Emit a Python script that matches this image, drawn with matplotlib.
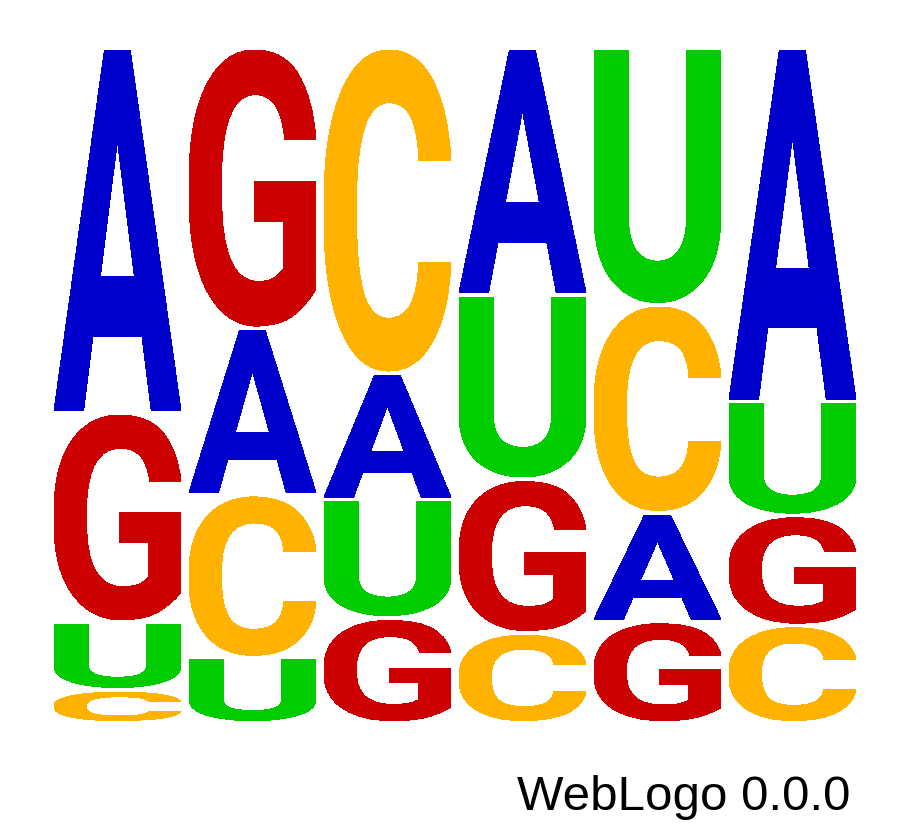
import matplotlib
matplotlib.use("Agg")
import matplotlib.pyplot as plt
from matplotlib.textpath import TextPath
from matplotlib.patches import PathPatch
from matplotlib.font_manager import FontProperties
from matplotlib.transforms import Affine2D

# ---- data (probability of each base at each position) ----
positions = [1, 2, 3, 4, 5, 6]
bases = ["A", "C", "G", "U"]
prob_A = [0.541, 0.248, 0.188, 0.365, 0.162, 0.524]
prob_C = [0.046, 0.243, 0.482, 0.131, 0.310, 0.142]
prob_G = [0.312, 0.415, 0.153, 0.229, 0.148, 0.164]
prob_U = [0.101, 0.094, 0.177, 0.275, 0.380, 0.170]
footer_text = "WebLogo 0.0.0"

colors = {"A": "#0000CC", "C": "#FFB300", "G": "#CC0000", "U": "#00CC00"}
probs = {"A": prob_A, "C": prob_C, "G": prob_G, "U": prob_U}

W, H = 908, 825
fig = plt.figure(figsize=(W / 100, H / 100), dpi=100)
ax = fig.add_axes([50 / W, (H - 720.7) / H, 810 / W, 670.7 / H])
ax.set_xlim(0.5, 6.5)
ax.set_ylim(0, 1)
ax.axis("off")

fp = FontProperties(family="Roboto", weight="bold")
glyph_w = 127 / 135
gap = 0.0067

for i, pos in enumerate(positions):
    col = sorted(bases, key=lambda b: probs[b][i])
    total = sum(probs[b][i] for b in bases)
    y = 0.0
    for b in col:
        p = probs[b][i] / total
        y0 = y + (gap / 2 if y > 1e-9 else 0)
        y1 = y + p - (gap / 2 if y + p < 1 - 1e-6 else 0)
        y += p
        tp = TextPath((0, 0), b, size=1, prop=fp)
        ext = tp.get_extents()
        tr = (Affine2D()
              .translate(-ext.x0, -ext.y0)
              .scale(glyph_w / ext.width, (y1 - y0) / ext.height)
              .translate(pos - glyph_w / 2, y0))
        patch = PathPatch(tp, facecolor=colors[b], edgecolor="none",
                          transform=tr + ax.transData, antialiased=False)
        ax.add_patch(patch)

fig.text(850 / W, (H - 810) / H, footer_text, ha="right", va="baseline",
         fontsize=35.5, family="Liberation Sans", color="black")

fig.savefig("out.png", dpi=100, facecolor="white")
